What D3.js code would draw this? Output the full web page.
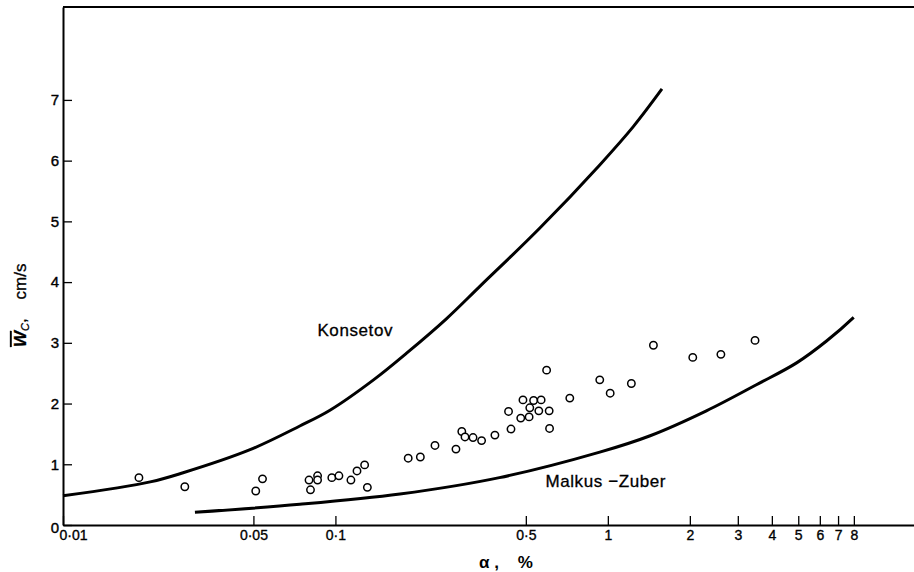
<!DOCTYPE html>
<html>
<head>
<meta charset="utf-8">
<script src="https://cdn.jsdelivr.net/npm/d3@7"></script>
<style>
  body { margin: 0; background: #fff; }
  svg { display: block; font-family: "Liberation Sans", Arial, sans-serif; }
</style>
</head>
<body>
<div id="chart"></div>
<script>
// chart size
var width = 914, height = 572;
var margin = {top: 7, left: 63, bottom: 47};

// tick labels
var xTicks = [0.01, 0.05, 0.1, 0.5, 1, 2, 3, 4, 5, 6, 7, 8];
var yTicks = [0, 1, 2, 3, 4, 5, 6, 7];

// measured points: gas fraction (%) and velocity (cm/s)
var pointAlpha = [0.019, 0.028, 0.051, 0.054, 0.080, 0.081, 0.086, 0.086, 0.097, 0.103,
  0.114, 0.120, 0.128, 0.131, 0.185, 0.205, 0.232, 0.277, 0.291, 0.299,
  0.320, 0.344, 0.385, 0.441, 0.432, 0.488, 0.479, 0.514, 0.517, 0.534,
  0.569, 0.558, 0.609, 0.611, 0.596, 0.725, 0.934, 1.02, 1.22, 1.47,
  2.05, 2.60, 3.47];
var pointW = [0.78, 0.63, 0.56, 0.76, 0.74, 0.58, 0.81, 0.74, 0.78, 0.81,
  0.74, 0.89, 0.99, 0.62, 1.10, 1.12, 1.31, 1.25, 1.54, 1.45,
  1.44, 1.39, 1.48, 1.58, 1.87, 2.06, 1.76, 1.78, 1.93, 2.05,
  2.06, 1.88, 1.88, 1.59, 2.55, 2.09, 2.39, 2.17, 2.33, 2.96,
  2.76, 2.81, 3.04];

// Konsetov curve
var konsetovAlpha = [0.01, 0.0209, 0.0276, 0.0486, 0.074, 0.0955, 0.138, 0.1825, 0.256, 0.339, 0.563, 0.934, 1.24, 1.58];
var konsetovW = [0.48, 0.71, 0.86, 1.24, 1.63, 1.89, 2.39, 2.83, 3.40, 3.93, 4.89, 5.93, 6.56, 7.18];

// Malkus-Zuber curve
var malkusAlpha = [0.0305, 0.074, 0.1725, 0.40, 0.934, 1.43, 2.30, 3.51, 4.93, 6.35, 7.99];
var malkusW = [0.21, 0.34, 0.51, 0.78, 1.20, 1.47, 1.88, 2.31, 2.67, 3.03, 3.42];

var svg = d3.select("#chart").append("svg")
  .attr("width", width)
  .attr("height", height);

var x = d3.scaleLog()
  .domain([0.01, 13.3])
  .range([margin.left, width]);

var y = d3.scaleLinear()
  .domain([0, 8.53])
  .range([height - margin.bottom, margin.top]);

// x axis (ticks point up into the plot)
var xAxis = svg.append("g")
  .attr("transform", "translate(0," + y(0) + ")")
  .call(d3.axisBottom(x)
    .tickValues(xTicks)
    .tickSize(-9)
    .tickSizeOuter(0)
    .tickPadding(5)
    .tickFormat(function(d) { return d < 1 ? String(d).replace(".", "\u00b7") : d; }));

xAxis.select(".domain").attr("stroke-width", 2);
xAxis.selectAll(".tick line").attr("stroke-width", 1.3);
xAxis.selectAll(".tick text")
  .attr("font-size", 14)
  .attr("fill", "#000")
  .attr("stroke", "#000")
  .attr("stroke-width", 0.35)
  .attr("dx", function(d) { return d == 0.01 ? 10 : 0; });

// y axis
var yAxis = svg.append("g")
  .attr("transform", "translate(" + x(0.01) + ",0)")
  .call(d3.axisLeft(y)
    .tickValues(yTicks)
    .tickSize(-9)
    .tickSizeOuter(0)
    .tickPadding(4));

yAxis.select(".domain").attr("stroke-width", 2);
yAxis.selectAll(".tick line").attr("stroke-width", 1.3);
yAxis.selectAll(".tick text")
  .attr("font-size", 15)
  .attr("fill", "#000")
  .attr("stroke", "#000")
  .attr("stroke-width", 0.4)
  .attr("dy", function(d) { return d == 0 ? "0.5em" : "0.32em"; });

// top frame line
svg.append("line")
  .attr("x1", x.range()[0]).attr("x2", x.range()[1])
  .attr("y1", y.range()[1]).attr("y2", y.range()[1])
  .attr("stroke", "#000")
  .attr("stroke-width", 2);

// theory curves
var line = d3.line()
  .x(function(d) { return x(d[0]); })
  .y(function(d) { return y(d[1]); })
  .curve(d3.curveCatmullRom);

svg.append("path")
  .datum(d3.zip(konsetovAlpha, konsetovW))
  .attr("d", line)
  .attr("fill", "none")
  .attr("stroke", "#000")
  .attr("stroke-width", 3);

svg.append("path")
  .datum(d3.zip(malkusAlpha, malkusW))
  .attr("d", line)
  .attr("fill", "none")
  .attr("stroke", "#000")
  .attr("stroke-width", 3);

// data points
svg.selectAll("circle.pt")
  .data(d3.zip(pointAlpha, pointW))
  .enter()
  .append("circle")
  .attr("class", "pt")
  .attr("cx", function(d) { return x(d[0]); })
  .attr("cy", function(d) { return y(d[1]); })
  .attr("r", 3.7)
  .attr("fill", "#fff")
  .attr("stroke", "#000")
  .attr("stroke-width", 1.5);

// curve labels
svg.append("text")
  .attr("x", x(0.1) - 18).attr("y", y(3.11))
  .attr("font-size", 17)
  .attr("letter-spacing", 0.6)
  .attr("stroke", "#000")
  .attr("stroke-width", 0.3)
  .text("Konsetov");

svg.append("text")
  .attr("x", x(0.6) - 2).attr("y", y(0.63))
  .attr("font-size", 17)
  .attr("letter-spacing", 0.6)
  .attr("stroke", "#000")
  .attr("stroke-width", 0.3)
  .text("Malkus \u2212Zuber");

// axis titles
svg.append("text")
  .attr("x", 479).attr("y", 568)
  .attr("font-size", 17)
  .attr("font-weight", "bold")
  .text("\u03b1 ,\u00a0\u00a0\u00a0\u00a0%");

var yt = svg.append("text")
  .attr("transform", "translate(26,347) rotate(-90)")
  .attr("font-size", 17)
  .attr("stroke", "#000")
  .attr("stroke-width", 0.3);
yt.append("tspan")
  .attr("font-weight", "bold")
  .attr("font-style", "italic")
  .attr("text-decoration", "overline")
  .text("W");
yt.append("tspan")
  .attr("font-size", 11)
  .attr("font-style", "italic")
  .attr("dy", 3)
  .text("C");
yt.append("tspan")
  .attr("dy", -3)
  .text(",\u00a0\u00a0\u00a0\u00a0cm/s");
</script>
</body>
</html>
